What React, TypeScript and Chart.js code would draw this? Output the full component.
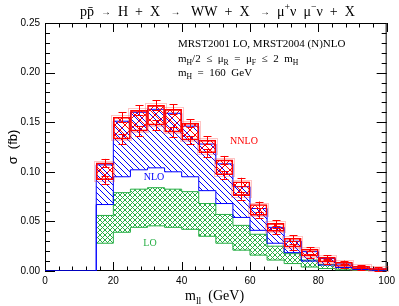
import React, { useEffect, useRef } from "react";
import { Chart, registerables } from "chart.js";

Chart.register(...registerables);

// ---- data ----
const BIN_LEFT = [15, 20, 25, 30, 35, 40, 45, 50, 55, 60, 65, 70, 75, 80, 85, 90, 95];
const BIN_WIDTH = 5;
const LO_LOW = [0.028, 0.039, 0.044, 0.0455, 0.044, 0.042, 0.035, 0.028, 0.021, 0.016, 0.011, 0.0075, 0.004, 0.0025, 0.0012, 0.0006, 0.0003];
const LO_HIGH = [0.056, 0.079, 0.0825, 0.084, 0.0825, 0.08, 0.068, 0.057, 0.046, 0.037, 0.025, 0.0175, 0.011, 0.0065, 0.0035, 0.002, 0.001];
const NLO_LOW = [0.067, 0.095, 0.102, 0.104, 0.1, 0.095, 0.081, 0.068, 0.054, 0.041, 0.028, 0.0185, 0.01, 0.006, 0.0035, 0.0015, 0.0007];
const NLO_HIGH = [0.107, 0.151, 0.16, 0.163, 0.159, 0.146, 0.128, 0.108, 0.085, 0.063, 0.044, 0.03, 0.0195, 0.0125, 0.007, 0.004, 0.002];
const NNLO_LOW = [0.092, 0.133, 0.141, 0.147, 0.14, 0.132, 0.119, 0.097, 0.076, 0.056, 0.04, 0.024, 0.015, 0.009, 0.0045, 0.002, 0.001];
const NNLO_HIGH = [0.109, 0.155, 0.162, 0.167, 0.163, 0.149, 0.132, 0.112, 0.09, 0.067, 0.048, 0.033, 0.022, 0.014, 0.009, 0.005, 0.003];
const NNLO_ERR = [0.004, 0.005, 0.005, 0.005, 0.005, 0.004, 0.004, 0.004, 0.004, 0.003, 0.003, 0.003, 0.002, 0.002, 0.0015, 0.001, 0.001];

const X_MIN = 0, X_MAX = 100, X_MAJOR = 20, X_MINOR = 4;
const Y_MIN = 0, Y_MAX = 0.25, Y_MAJOR = 0.05, Y_MINOR = 0.01;

const RED = "#ff0000";
const BLUE = "#0000ff";
const GREEN = "rgb(40,175,70)";
const SERIF = "'Liberation Serif', 'Times New Roman', serif";
const SANS = "'Liberation Sans', Arial, sans-serif";

type Part = { t: string; s?: "sub" | "sup"; f?: number };

function stepPoints(values: number[], leadZero: boolean) {
  const pts: { x: number; y: number }[] = [];
  if (leadZero) pts.push({ x: X_MIN, y: 0 });
  values.forEach((v, i) => pts.push({ x: BIN_LEFT[i], y: v }));
  pts.push({ x: BIN_LEFT[BIN_LEFT.length - 1] + BIN_WIDTH, y: values[values.length - 1] });
  return pts;
}

function hatch(color: string, size: number, dirs: string[], lw = 1) {
  const c = document.createElement("canvas");
  c.width = size;
  c.height = size;
  const g = c.getContext("2d")!;
  g.strokeStyle = color;
  g.lineWidth = lw;
  for (const d of dirs) {
    for (const o of [-size, 0, size]) {
      g.beginPath();
      if (d === "\\") {
        g.moveTo(o, 0);
        g.lineTo(o + size, size);
      } else {
        g.moveTo(o, size);
        g.lineTo(o + size, 0);
      }
      g.stroke();
    }
  }
  return g.createPattern(c, "repeat")!;
}

function drawRich(
  ctx: CanvasRenderingContext2D,
  parts: Part[],
  x: number,
  y: number,
  size: number,
  family: string,
  color: string,
  align: "left" | "center"
) {
  const fs = (p: Part) => p.f ?? (p.s ? size * 0.7 : size);
  const widths = parts.map((p) => {
    ctx.font = `${fs(p)}px ${family}`;
    return ctx.measureText(p.t).width;
  });
  const total = widths.reduce((a, b) => a + b, 0);
  let cx = align === "center" ? x - total / 2 : x;
  ctx.fillStyle = color;
  ctx.textAlign = "left";
  ctx.textBaseline = "alphabetic";
  parts.forEach((p, i) => {
    ctx.font = `${fs(p)}px ${family}`;
    let dy = 0;
    if (p.s === "sub") dy = size * 0.28;
    if (p.s === "sup") dy = -size * 0.42;
    if (p.f && !p.s) dy = -size * 0.08;
    ctx.fillText(p.t, cx, y + dy);
    cx += widths[i];
  });
}

const decor = {
  id: "decor",
  beforeDatasetsDraw(chart: any) {
    const { ctx, chartArea: a, scales } = chart;
    const xs = scales.x, ys = scales.y;
    ctx.save();
    ctx.strokeStyle = "#000";
    ctx.lineWidth = 1;
    ctx.strokeRect(a.left + 0.5, a.top + 0.5, a.right - a.left - 1, a.bottom - a.top - 1);
    ctx.beginPath();
    for (let v = X_MIN; v <= X_MAX + 1e-9; v += X_MINOR) {
      const major = Math.abs(v / X_MAJOR - Math.round(v / X_MAJOR)) < 1e-6;
      const len = major ? 9 : 4.5;
      const px = Math.round(xs.getPixelForValue(v)) + 0.5;
      ctx.moveTo(px, a.bottom);
      ctx.lineTo(px, a.bottom - len);
      ctx.moveTo(px, a.top);
      ctx.lineTo(px, a.top + len);
    }
    for (let k = 0; k <= Math.round((Y_MAX - Y_MIN) / Y_MINOR); k++) {
      const v = Y_MIN + k * Y_MINOR;
      const major = k % Math.round(Y_MAJOR / Y_MINOR) === 0;
      const len = major ? 10 : 5;
      const py = Math.round(ys.getPixelForValue(v)) + 0.5;
      ctx.moveTo(a.left, py);
      ctx.lineTo(a.left + len, py);
      ctx.moveTo(a.right, py);
      ctx.lineTo(a.right - len, py);
    }
    ctx.stroke();
    ctx.restore();
  },
  afterDatasetsDraw(chart: any) {
    const { ctx, scales, chartArea: a } = chart;
    const xs = scales.x, ys = scales.y;
    ctx.save();
    // pale halo around NNLO boxes
    ctx.strokeStyle = "rgba(255,60,60,0.3)";
    ctx.lineWidth = 1;
    BIN_LEFT.forEach((l, i) => {
      const x1 = Math.round(xs.getPixelForValue(l)) - 1.5;
      const x2 = Math.round(xs.getPixelForValue(l + BIN_WIDTH)) + 1.5;
      const yt = Math.round(ys.getPixelForValue(NNLO_HIGH[i])) - 1.5;
      const yb = Math.round(ys.getPixelForValue(NNLO_LOW[i])) + 1.5;
      ctx.strokeRect(x1, yt, x2 - x1, yb - yt);
    });
    // error bars on NNLO band edges
    ctx.strokeStyle = RED;
    ctx.lineWidth = 1;
    ctx.beginPath();
    BIN_LEFT.forEach((l, i) => {
      const xc = Math.round(xs.getPixelForValue(l + BIN_WIDTH / 2)) + 0.5;
      for (const v of [NNLO_LOW[i], NNLO_HIGH[i]]) {
        const y1 = ys.getPixelForValue(v - NNLO_ERR[i]);
        const y2 = ys.getPixelForValue(v + NNLO_ERR[i]);
        ctx.moveTo(xc, y1);
        ctx.lineTo(xc, y2);
        ctx.moveTo(xc - 4, Math.round(y1) + 0.5);
        ctx.lineTo(xc + 4, Math.round(y1) + 0.5);
        ctx.moveTo(xc - 4, Math.round(y2) + 0.5);
        ctx.lineTo(xc + 4, Math.round(y2) + 0.5);
      }
    });
    ctx.stroke();

    // band labels
    drawRich(ctx, [{ t: "NNLO" }], 244, 144, 10, SERIF, RED, "center");
    drawRich(ctx, [{ t: "NLO" }], 154, 179.5, 10, SERIF, BLUE, "center");
    drawRich(ctx, [{ t: "LO" }], 150, 245.5, 10, SERIF, GREEN, "center");

    // annotation
    drawRich(ctx, [{ t: "MRST2001 LO, MRST2004 (N)NLO" }], 178, 46.5, 11, SERIF, "#000", "left");
    drawRich(
      ctx,
      [
        { t: "m" }, { t: "H", s: "sub" }, { t: "/2  \u2264  \u03bc" }, { t: "R", s: "sub" },
        { t: "  =  \u03bc" }, { t: "F", s: "sub" }, { t: "  \u2264  2  m" }, { t: "H", s: "sub" },
      ],
      178, 61.5, 11, SERIF, "#000", "left"
    );
    drawRich(ctx, [{ t: "m" }, { t: "H", s: "sub" }, { t: "  =  160  GeV" }], 178, 76, 11, SERIF, "#000", "left");

    // title
    const arrow: Part = { t: "\u2192", f: 10 };
    drawRich(
      ctx,
      [
        { t: "pp\u0304  " }, arrow, { t: "  H  +  X   " }, arrow, { t: "   WW  +  X   " }, arrow,
        { t: "  \u03bc" }, { t: "+", s: "sup" }, { t: "\u03bd  \u03bc" }, { t: "\u2212", s: "sup" }, { t: "\u03bd  +  X" },
      ],
      80, 16, 14, SERIF, "#000", "left"
    );

    // x title
    drawRich(ctx, [{ t: "m" }, { t: "ll", s: "sub" }, { t: "  (GeV)" }], 185, 300, 14, SERIF, "#000", "left");

    // y title
    ctx.translate(12, (a.top + a.bottom) / 2);
    ctx.rotate(-Math.PI / 2);
    drawRich(ctx, [{ t: "\u03c3  (fb)" }], 0, 4.5, 13, SANS, "#000", "center");
    ctx.restore();
  },
};

export default function App() {
  const ref = useRef<HTMLCanvasElement | null>(null);
  useEffect(() => {
    document.body.style.margin = "0";
    const canvas = ref.current!;
    const loPat = hatch(GREEN, 5, ["\\", "/"]);
    const nloPat = hatch(BLUE, 6, ["\\"]);
    const nnloPat = hatch(RED, 10, ["\\", "/"]);
    const lineBase = { type: "line" as const, pointRadius: 0, borderWidth: 1, stepped: "before" as const, tension: 0 };
    const chart = new Chart(canvas, {
      type: "line",
      data: {
        datasets: [
          { ...lineBase, label: "LO low", data: stepPoints(LO_LOW, false), borderColor: GREEN, fill: false, order: 6 },
          { ...lineBase, label: "LO high", data: stepPoints(LO_HIGH, false), borderColor: GREEN, backgroundColor: loPat, fill: "-1", order: 5 },
          { ...lineBase, label: "NLO low", data: stepPoints(NLO_LOW, true), borderColor: BLUE, fill: false, order: 4 },
          { ...lineBase, label: "NLO high", data: stepPoints(NLO_HIGH, true), borderColor: BLUE, backgroundColor: nloPat, fill: "-1", order: 3 },
          {
            type: "bar",
            label: "NNLO",
            data: NNLO_LOW.map((lo, i) => ({ x: BIN_LEFT[i] + BIN_WIDTH / 2, y: [lo, NNLO_HIGH[i]] })) as any,
            backgroundColor: nnloPat,
            borderColor: RED,
            borderWidth: 1,
            borderSkipped: false,
            barPercentage: 1,
            categoryPercentage: 1,
            grouped: false,
            order: 2,
          } as any,
        ],
      },
      options: {
        animation: false,
        responsive: false,
        events: [],
        layout: { padding: { left: 0, right: 10, top: 23, bottom: 0 } },
        plugins: { legend: { display: false }, tooltip: { enabled: false }, title: { display: false } },
        scales: {
          x: {
            type: "linear",
            min: X_MIN,
            max: X_MAX,
            offset: false,
            grid: { display: false, drawTicks: false, offset: false },
            border: { display: false },
            ticks: { stepSize: X_MAJOR, padding: 4, color: "#000", font: { family: SANS, size: 10 }, maxRotation: 0, autoSkip: false },
            afterFit: (s: any) => { s.height = 35; },
          },
          y: {
            type: "linear",
            min: Y_MIN,
            max: Y_MAX,
            grid: { display: false, drawTicks: false },
            border: { display: false },
            ticks: { stepSize: Y_MAJOR, padding: 5, color: "#000", font: { family: SANS, size: 10 }, callback: (v: any) => Number(v).toFixed(2) },
            afterFit: (s: any) => { s.width = 45; },
          },
        },
      },
      plugins: [decor],
    });
    return () => chart.destroy();
  }, []);
  return (
    <div style={{ position: "fixed", left: 0, top: 0, width: 399, height: 306, background: "#fff" }}>
      <canvas ref={ref} width={399} height={306} style={{ width: 399, height: 306, display: "block" }} />
    </div>
  );
}
